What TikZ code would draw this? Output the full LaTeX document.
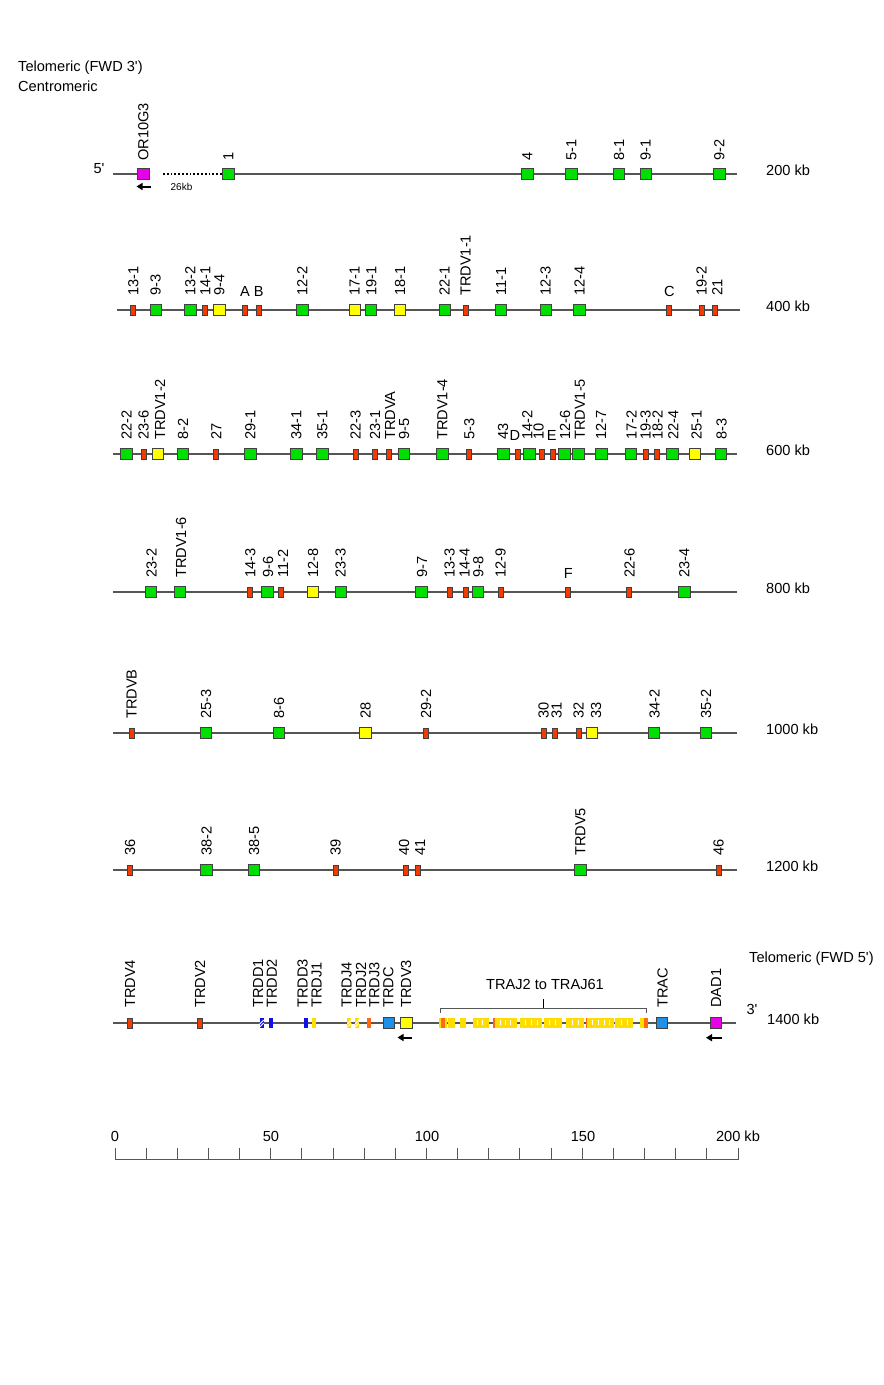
\documentclass[tikz,border=0pt]{standalone}
\usepackage{fontspec}
\setmainfont{Liberation Sans}[Ligatures=TeXOff]
\usetikzlibrary{arrows.meta}
\definecolor{vgreen}{HTML}{00E000}
\definecolor{vyellow}{HTML}{FFFF00}
\definecolor{vred}{HTML}{F03C00}
\definecolor{vmag}{HTML}{E800E8}
\definecolor{vblue}{HTML}{1E90E8}
\definecolor{dblue}{HTML}{1010E8}
\definecolor{jgold}{HTML}{FFDD00}
\definecolor{jorange}{HTML}{FF6A10}
\definecolor{chromc}{HTML}{555555}
\tikzset{
 chrom/.style={draw=chromc, line width=1.3},
 box/.style={draw=black!75, line width=0.8, inner sep=0, outer sep=0},
 G/.style={box, fill=vgreen, minimum width=11.5, minimum height=11.5},
 Y/.style={box, fill=vyellow, minimum width=11.5, minimum height=11.5},
 R/.style={box, fill=vred, minimum width=5, minimum height=10},
 M/.style={box, fill=vmag, minimum width=11.5, minimum height=11.5},
 B/.style={box, fill=vblue, minimum width=11.5, minimum height=11.5},
 O/.style={fill=jorange, minimum width=4, minimum height=10, inner sep=0},
 DB/.style={fill=dblue, minimum width=4, minimum height=10, inner sep=0},
 J/.style={fill=jgold, minimum width=4, minimum height=10, inner sep=0},
 lab/.style={rotate=90, anchor=west, inner sep=0, font=\fontsize{14.6}{14.6}\selectfont},
 let/.style={anchor=base, inner sep=0, font=\fontsize{14.6}{14.6}\selectfont},
 txt/.style={inner sep=0, font=\fontsize{14.6}{16}\selectfont},
 dirarrow/.style={-{Triangle[length=6,width=7]}, line width=2, black},
 hatch/.style={draw=white, line width=0.8},
}
\newcommand\generow[4]{%
 \foreach \x/\t/\l/\lx/\ls [count=\i] in {#4} {%
  \node[\t] (#1g\i) at (\x,#2) {};
  \node[\ls] (#1l\i) at (\lx,#2-#3) {\l};
 }}
\begin{document}
\begin{tikzpicture}[x=1pt,y=-1pt]
\useasboundingbox[fill=white] (0,0) rectangle (884,1385);

% header
\node[txt, anchor=west] (tel3) at (18,68) {Telomeric (FWD 3')};
\node[txt, anchor=west] (cen) at (18,86) {Centromeric};

% ---------- row 1 ----------
\coordinate (a1s) at (113,174); \coordinate (a1b) at (138,174);
\coordinate (d1s) at (163,174); \coordinate (d1e) at (223,174);
\coordinate (a1c) at (233,174); \coordinate (a1e) at (737,174);
\draw[chrom] (a1s) -- (a1b);
\draw[chrom] (a1c) -- (a1e);
\draw[black, line width=1.8, dotted] (d1s) -- (d1e);
\generow{a}{174}{13}{143.3/M/OR10G3/143.3/lab, 228.3/G/1/228.3/lab, 527.3/G/4/527.3/lab, 571.3/G/5-1/571.3/lab, 619/G/8-1/619/lab, 645.7/G/9-1/645.7/lab, 719.3/G/9-2/719.3/lab}
\node[txt] (p5) at (99,169) {5'};
\node[inner sep=0, font=\fontsize{10}{10}\selectfont] (kb26) at (181.5,186.5) {26kb};
\coordinate (ar1s) at (150.5,186.5); \coordinate (ar1e) at (136.5,186.5);
\draw[dirarrow] (ar1s) -- (ar1e);
\node[txt, anchor=west] (kb200) at (766,170) {200 kb};

% ---------- row 2 ----------
\coordinate (b2s) at (117,310); \coordinate (b2e) at (740,310);
\draw[chrom] (b2s) -- (b2e);
\generow{b}{310}{14}{133.3/R/13-1/133.3/lab, 155.7/G/9-3/155.7/lab, 190.3/G/13-2/190.3/lab, 205.3/R/14-1/205.3/lab, 219.3/Y/9-4/219.3/lab, 245/R/A/245/let, 258.7/R/B/258.7/let, 302.3/G/12-2/302.3/lab, 354.7/Y/17-1/354.7/lab, 371/G/19-1/371.3/lab, 400/Y/18-1/400/lab, 445/G/22-1/444.5/lab, 465.7/R/TRDV1-1/465.7/lab, 501/G/11-1/501/lab, 545.7/G/12-3/545.7/lab, 579.3/G/12-4/579.5/lab, 669.3/R/C/669.3/let, 701.7/R/19-2/701.7/lab, 715/R/21/717.3/lab}
\node[txt, anchor=west] (kb400) at (766,306) {400 kb};

% ---------- row 3 ----------
\coordinate (c3s) at (113,454); \coordinate (c3e) at (737,454);
\draw[chrom] (c3s) -- (c3e);
\generow{c}{454}{14}{126.3/G/22-2/126.5/lab, 143.7/R/23-6/143.7/lab, 157.7/Y/TRDV1-2/160/lab, 182.7/G/8-2/183/lab, 216.3/R/27/216.3/lab, 250.3/G/29-1/250.3/lab, 296.3/G/34-1/296.3/lab, 322.3/G/35-1/322.3/lab, 355.7/R/22-3/355.7/lab, 375.3/R/23-1/375/lab, 388.7/R/TRDVA/390/lab, 403.7/G/9-5/404/lab, 442.3/G/TRDV1-4/442.3/lab, 469.3/R/5-3/469.3/lab, 503.3/G/43/503/lab, 517.7/R/D/515/let, 529.3/G/14-2/527.3/lab, 542.3/R/10/538.5/lab, 553.3/R/E/551.7/let, 564.3/G/12-6/565/lab, 578.3/G/TRDV1-5/580/lab, 601.3/G/12-7/601/lab, 631/G/17-2/631.5/lab, 646.3/R/19-3/645.7/lab, 656.7/R/18-2/657.7/lab, 672.3/G/22-4/673.3/lab, 695/Y/25-1/696.5/lab, 721/G/8-3/721.5/lab}
\node[txt, anchor=west] (kb600) at (766,450) {600 kb};

% ---------- row 4 ----------
\coordinate (d4s) at (113,592); \coordinate (d4e) at (737,592);
\draw[chrom] (d4s) -- (d4e);
\generow{d}{592}{14}{150.7/G/23-2/151.5/lab, 179.7/G/TRDV1-6/181/lab, 250.3/R/14-3/250.3/lab, 267.3/G/9-6/268/lab, 281.3/R/11-2/283/lab, 312.7/Y/12-8/313/lab, 340.7/G/23-3/340.7/lab, 421.3/G/9-7/422/lab, 449.7/R/13-3/449.5/lab, 466.3/R/14-4/464.5/lab, 478/G/9-8/478.3/lab, 500.7/R/12-9/500.7/lab, 568.3/R/F/568.3/let, 629.3/R/22-6/629.5/lab, 684.3/G/23-4/684.3/lab}
\node[txt, anchor=west] (kb800) at (766,588) {800 kb};

% ---------- row 5 ----------
\coordinate (e5s) at (113,733); \coordinate (e5e) at (737,733);
\draw[chrom] (e5s) -- (e5e);
\generow{e}{733}{14}{131.5/R/TRDVB/131.5/lab, 206/G/25-3/206/lab, 279/G/8-6/279/lab, 365.5/Y/28/365.5/lab, 426/R/29-2/426/lab, 543.5/R/30/543.5/lab, 554.5/R/31/556.5/lab, 578.5/R/32/578.5/lab, 592/Y/33/596/lab, 654/G/34-2/654.5/lab, 706/G/35-2/706/lab}
\node[txt, anchor=west] (kb1000) at (766,729) {1000 kb};

% ---------- row 6 ----------
\coordinate (f6s) at (113,870); \coordinate (f6e) at (737,870);
\draw[chrom] (f6s) -- (f6e);
\generow{f}{870}{14}{130/R/36/130/lab, 206.5/G/38-2/206.5/lab, 254/G/38-5/254/lab, 335.5/R/39/335.5/lab, 406/R/40/404/lab, 418/R/41/420/lab, 580.5/G/TRDV5/580.5/lab, 718.5/R/46/718.5/lab}
\node[txt, anchor=west] (kb1200) at (766,866) {1200 kb};

% ---------- row 7 ----------
\coordinate (g7s) at (113,1023); \coordinate (g7e) at (736,1023);
\draw[chrom] (g7s) -- (g7e);
% TRAJ cluster
\foreach \a/\b in {438.5/447, 448/455, 460/466, 472.5/488.5, 495/517, 520/542, 543.5/562, 566/583.5, 586.5/613.5, 615/632.5, 639.5/643.5}
  \fill[jgold] (\a,1018) rectangle (\b,1028);
\foreach \a/\b in {440.5/445, 492.5/495, 585.5/586.8, 643.5/647.5}
  \fill[jorange] (\a,1018) rectangle (\b,1028);
\foreach \a in {477, 482, 500, 505, 510, 525, 531, 537, 549, 555, 572, 578, 592, 598, 604, 609, 621, 627}
  \draw[white, line width=0.8] (\a,1020) -- (\a,1025);
\generow{g}{1023}{15}{130/R/TRDV4/130/lab, 200/R/TRDV2/200/lab, 261.7/DB/TRDD1/258/lab, 271/DB/TRDD2/271.7/lab, 305.7/DB/TRDD3/302.7/lab, 314.3/J/TRDJ1/316.7/lab, 349.3/J/TRDJ4/346.7/lab, 357/J/TRDJ2/361/lab, 369/O/TRDJ3/374.3/lab, 388.7/B/TRDC/388.3/lab, 406.3/Y/TRDV3/406/lab, 661.7/B/TRAC/662.7/lab, 716/M/DAD1/716/lab}
% hatching on TRDD1, TRDJ4, TRDJ2
\foreach \n in {gg3, gg7, gg8} {
  \draw[hatch] ([xshift=-2,yshift=-1]\n.center) -- ([xshift=2,yshift=3]\n.center);
  \draw[hatch] ([xshift=-2,yshift=-4]\n.center) -- ([xshift=2,yshift=0]\n.center);
}
% bracket
\coordinate (br1) at (440.7,1013); \coordinate (br2) at (440.7,1008.3);
\coordinate (br3) at (646,1008.3); \coordinate (br4) at (646,1013);
\coordinate (brm) at (543.3,1008.3); \coordinate (brt) at (543.3,998.5);
\draw[chromc, line width=1] (br1) -- (br2) -- (br3) -- (br4);
\draw[black, line width=1.3] (brm) -- (brt);
\node[txt] (traj) at (545,984.5) {TRAJ2 to TRAJ61};
% arrows
\coordinate (ar2s) at (412,1037.5); \coordinate (ar2e) at (397.5,1037.5);
\draw[dirarrow] (ar2s) -- (ar2e);
\coordinate (ar3s) at (722,1037.7); \coordinate (ar3e) at (706,1037.7);
\draw[dirarrow] (ar3s) -- (ar3e);
\node[txt] (p3) at (752,1009) {3'};
\node[txt, anchor=west] (kb1400) at (767,1019.5) {1400 kb};
\node[txt, anchor=west] (tel5) at (749,958.3) {Telomeric (FWD 5')};

% ---------- scale ----------
\coordinate (sc0) at (115,1159.5); \coordinate (sc1) at (738,1159.5);
\draw[chromc, line width=1] (sc0) -- (sc1);
\foreach \k in {0,...,20}
  \draw[chromc, line width=1] (115+\k*31.15,1159.5) -- ++(0,-11.5);
\node[txt] (s0) at (115,1136) {0};
\node[txt] (s50) at (271,1136) {50};
\node[txt] (s100) at (427,1136) {100};
\node[txt] (s150) at (583,1136) {150};
\node[txt] (s200) at (738,1136) {200 kb};
\end{tikzpicture}
\end{document}
